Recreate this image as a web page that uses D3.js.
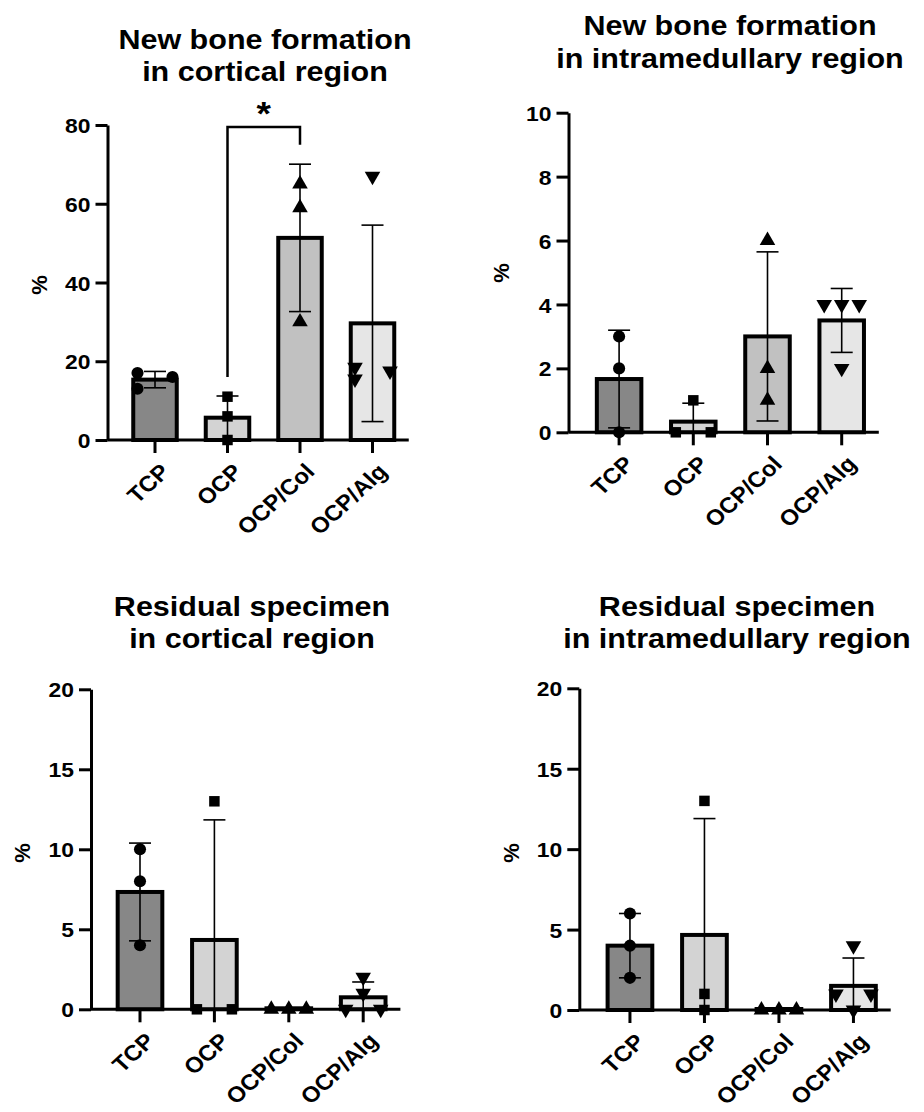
<!DOCTYPE html>
<html>
<head>
<meta charset="utf-8">
<script src="https://cdn.jsdelivr.net/npm/d3@7"></script>
<style>
  body{margin:0;background:#fff;}
  svg{display:block;font-family:'Liberation Sans',Arial,sans-serif;font-weight:bold;}
</style>
</head>
<body>
<svg id="chart" width="924" height="1112"></svg>
<script>
var groups = ['TCP', 'OCP', 'OCP/Col', 'OCP/Alg'];
var fills = ['#878787', '#d3d3d3', '#c1c1c1', '#e6e6e6'];
var shapes = [d3.symbolCircle, d3.symbolSquare, d3.symbolTriangle, 'down'];

// individual specimens, % per group
var newBoneCortical = [[17, 16, 13], [11, 6, 0], [65, 59, 30], [67, 18.5, 17.5, 15.5]];
var newBoneMedullary = [[3, 2, 0], [1, 0, 0], [6, 2, 1], [4, 4, 4, 2]];
var residualCortical = [[10, 8, 4], [13, 0, 0], [0, 0, 0], [2, 1, 0, 0]];
var residualMedullary = [[6, 4, 2], [13, 1, 0], [0, 0, 0], [4, 1, 1, 0]];

var ticksNewCort = [0, 20, 40, 60, 80];
var ticksNewMed = [0, 2, 4, 6, 8, 10];
var ticksResidual = [0, 5, 10, 15, 20];

var titleNewCort = ['New bone formation', 'in cortical region'];
var titleNewMed = ['New bone formation', 'in intramedullary region'];
var titleResCort = ['Residual specimen', 'in cortical region'];
var titleResMed = ['Residual specimen', 'in intramedullary region'];
var yLabel = '%';

// significance bracket (top panel left): OCP vs OCP/Col
var sigPair = ['OCP', 'OCP/Col'];
var sigLevels = [79.5, 16, 75]; // top, left leg end, right leg end
var sigLabel = '*';

var SX = 1.09; // picture is a bit wider than tall
var svg = d3.select('#chart');

var panels = [
  {values: newBoneCortical, ticks: ticksNewCort, title: titleNewCort, axisX: 107.5, xStart: 118.75, xEnd: 408.75,
   yBottom: 440, yTop: 125, titleX: 265, titleY: [49, 81], labelX: 39, labelY: 285, sig: true},
  {values: newBoneMedullary, ticks: ticksNewMed, title: titleNewMed, axisX: 568.5, xStart: 582, xEnd: 878.8,
   yBottom: 432.3, yTop: 112.7, titleX: 730, titleY: [35, 68], labelX: 501, labelY: 273, sig: false},
  {values: residualCortical, ticks: ticksResidual, title: titleResCort, axisX: 91, xStart: 102.8, xEnd: 400.4,
   yBottom: 1009.3, yTop: 689.3, titleX: 252, titleY: [616, 648], labelX: 22, labelY: 853, sig: false},
  {values: residualMedullary, ticks: ticksResidual, title: titleResMed, axisX: 579.3, xStart: 592.7, xEnd: 890.7,
   yBottom: 1010, yTop: 688.3, titleX: 737, titleY: [616, 648], labelX: 511, labelY: 853, sig: false}
];

function spreadPoints(vals, y, d){
  var pts = vals.map(function(v){ return {v: v, py: y(v), dx: 0}; })
    .sort(function(a, b){ return b.v - a.v; });
  var clusters = [], cur = [pts[0]];
  for (var i = 1; i < pts.length; i++){
    if (Math.abs(pts[i].py - pts[i-1].py) < 12) cur.push(pts[i]);
    else { clusters.push(cur); cur = [pts[i]]; }
  }
  clusters.push(cur);
  clusters.forEach(function(c){
    if (c.length < 2) return;
    var same = c.every(function(p){ return p.v === c[0].v; });
    c.forEach(function(p, j){
      if (same) p.dx = c.length === 2 ? (j === 0 ? -d : d) : (j - (c.length - 1) / 2) * d;
      else p.dx = j % 2 === 0 ? -d : d;
    });
  });
  return pts;
}

function drawPanel(p){
  var g = svg.append('g').attr('class', 'panel');
  var y = d3.scaleLinear().domain([0, p.ticks[p.ticks.length - 1]]).range([p.yBottom, p.yTop]);
  var x = d3.scaleBand().domain(groups).range([p.xStart, p.xEnd]);
  var step = x.bandwidth();
  var bw = step * 0.6;
  var cx = function(k){ return x(k) + step / 2; };

  var stats = p.values.map(function(v, i){
    var m = d3.mean(v), sd = d3.deviation(v) || 0;
    return {name: groups[i], vals: v, mean: m, sd: sd, i: i};
  });

  // bars (zero bars still show their outline)
  g.selectAll('.bar').data(stats).enter().append('rect')
    .attr('class', 'bar')
    .attr('x', function(d){ return cx(d.name) - bw / 2; })
    .attr('y', function(d){ return Math.min(y(d.mean), p.yBottom - 1); })
    .attr('width', bw)
    .attr('height', function(d){ return Math.max(p.yBottom - y(d.mean), 1); })
    .attr('fill', function(d){ return fills[d.i]; })
    .attr('stroke', '#000')
    .attr('stroke-width', 4);

  // error bars (mean +/- SD), clipped at the axis
  var eb = g.selectAll('.err').data(stats.filter(function(d){ return d.sd > 0; }))
    .enter().append('g').attr('class', 'err')
    .attr('stroke', '#000').attr('stroke-width', 1.6);
  eb.append('line')
    .attr('x1', function(d){ return cx(d.name); })
    .attr('x2', function(d){ return cx(d.name); })
    .attr('y1', function(d){ return y(Math.max(0, d.mean - d.sd)); })
    .attr('y2', function(d){ return y(d.mean + d.sd); });
  eb.append('line')
    .attr('x1', function(d){ return cx(d.name) - 11; })
    .attr('x2', function(d){ return cx(d.name) + 11; })
    .attr('y1', function(d){ return y(d.mean + d.sd); })
    .attr('y2', function(d){ return y(d.mean + d.sd); });
  eb.filter(function(d){ return d.mean - d.sd > 0; }).append('line')
    .attr('x1', function(d){ return cx(d.name) - 11; })
    .attr('x2', function(d){ return cx(d.name) + 11; })
    .attr('y1', function(d){ return y(d.mean - d.sd); })
    .attr('y2', function(d){ return y(d.mean - d.sd); });

  // axes
  var yAxis = d3.axisLeft(y).tickValues(p.ticks).tickSize(12).tickSizeOuter(0).tickPadding(0);
  var ya = g.append('g').attr('transform', 'translate(' + p.axisX + ',0)').call(yAxis)
    .attr('font-family', null).attr('font-size', null);
  ya.select('.domain').attr('stroke', '#000').attr('stroke-width', 3);
  ya.selectAll('.tick line').attr('stroke', '#000').attr('stroke-width', 3);
  ya.selectAll('.tick text')
    .attr('x', 0).attr('dy', '0.36em')
    .attr('transform', 'translate(-17,0) scale(' + SX + ',1)')
    .attr('fill', '#000').style('font-size', '21px');

  var xAxis = d3.axisBottom(x).tickSize(13).tickSizeOuter(0);
  var xa = g.append('g').attr('transform', 'translate(0,' + p.yBottom + ')').call(xAxis)
    .attr('font-family', null).attr('font-size', null);
  xa.select('.domain').remove();
  xa.selectAll('.tick line').attr('stroke', '#000').attr('stroke-width', 3);
  xa.selectAll('.tick text')
    .attr('x', 0).attr('y', 0).attr('dy', '0.71em')
    .attr('text-anchor', 'end')
    .attr('transform', 'translate(4,22) scale(' + SX + ',1) rotate(-45)')
    .attr('fill', '#000').style('font-size', '22px');
  g.append('line')
    .attr('x1', p.axisX).attr('x2', x.range()[1])
    .attr('y1', p.yBottom).attr('y2', p.yBottom)
    .attr('stroke', '#000').attr('stroke-width', 3);

  // individual points
  stats.forEach(function(d){
    var pts = spreadPoints(d.vals, y, 17.5);
    var shp = shapes[d.i];
    var sym = d3.symbol().type(shp === 'down' ? d3.symbolTriangle : shp)
      .size(shp === d3.symbolCircle ? 115 : (shp === d3.symbolSquare ? 110 : 105));
    g.selectAll('.pt' + d.i).data(pts).enter().append('path')
      .attr('d', sym)
      .attr('transform', function(q){
        return 'translate(' + (cx(d.name) + q.dx) + ',' + q.py + ')' + (shp === 'down' ? ' rotate(180)' : '');
      })
      .attr('fill', '#000');
  });

  // significance bracket
  if (p.sig){
    var xa1 = cx(sigPair[0]), xa2 = cx(sigPair[1]);
    g.append('path')
      .attr('d', 'M' + xa1 + ',' + y(sigLevels[1]) + 'V' + y(sigLevels[0]) + 'H' + xa2 + 'V' + y(sigLevels[2]))
      .attr('fill', 'none').attr('stroke', '#000').attr('stroke-width', 2.5);
    g.append('text')
      .attr('transform', 'translate(' + ((xa1 + xa2) / 2) + ',' + (y(sigLevels[0]) - 2) + ') scale(' + SX + ',1)')
      .attr('text-anchor', 'middle')
      .style('font-size', '34px')
      .text(sigLabel);
  }

  // y label
  g.append('text')
    .attr('transform', 'translate(' + p.labelX + ',' + p.labelY + ') rotate(-90)')
    .attr('text-anchor', 'middle').attr('dy', '0.36em')
    .style('font-size', '22px')
    .text(yLabel);

  // title
  p.title.forEach(function(t, k){
    g.append('text')
      .attr('transform', 'translate(' + p.titleX + ',' + p.titleY[k] + ') scale(' + SX + ',1)')
      .attr('text-anchor', 'middle')
      .style('font-size', '28px')
      .text(t);
  });
}

panels.forEach(drawPanel);
</script>
</body>
</html>
